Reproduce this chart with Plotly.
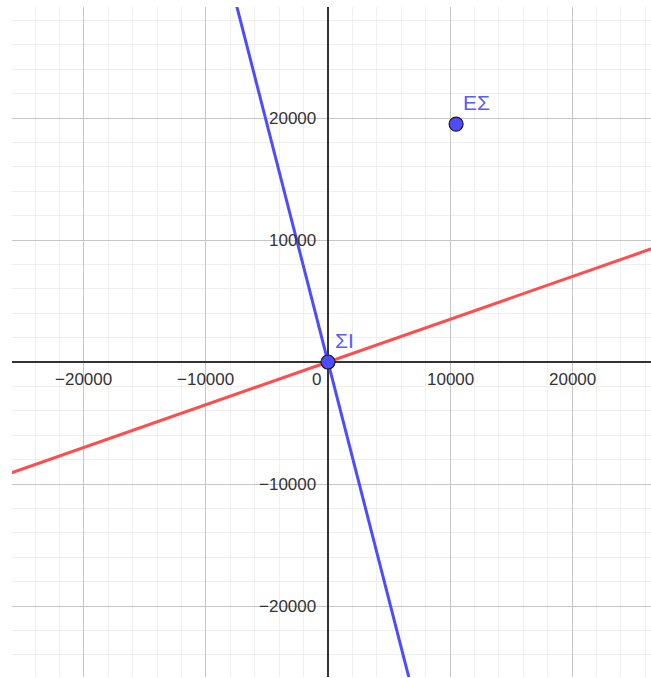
import plotly.graph_objects as go

# Data
x_ticks = [-20000, -10000, 10000, 20000]
y_ticks = [20000, 10000, -10000, -20000]
x_tick_labels = ["\u221220000", "\u221210000", "10000", "20000"]
y_tick_labels = ["20000", "10000", "\u221210000", "\u221220000"]

point_names = ["\u0395\u03a3", "\u03a3\u0399"]   # ΕΣ, ΣΙ
point_x = [10500, 0]
point_y = [19500, 0]

red_slope = 0.35
blue_slope = -3.9
line_x = [-40000, 40000]

x_range = [-25900, 26475]
y_range = [-25820, 29100]

BLUE = "#4d4dff"
RED = "#ff4d4d"
TICK_FONT = dict(family="Liberation Sans, Arial, sans-serif", size=17, color="#333333")

fig = go.Figure()

fig.add_trace(go.Scatter(x=line_x, y=[red_slope * v for v in line_x], mode="lines",
                         line=dict(color=RED, width=3), hoverinfo="skip", showlegend=False))
fig.add_trace(go.Scatter(x=line_x, y=[blue_slope * v for v in line_x], mode="lines",
                         line=dict(color=BLUE, width=3), hoverinfo="skip", showlegend=False))
fig.add_trace(go.Scatter(x=point_x, y=point_y, mode="markers",
                         marker=dict(size=14, color=BLUE, line=dict(color="#1a1a1a", width=1.2)),
                         showlegend=False))

# point labels
for name, px, py in zip(point_names, point_x, point_y):
    fig.add_annotation(x=px, y=py, xref="x", yref="y", text=name, showarrow=False,
                       xanchor="left", yanchor="middle", xshift=5, yshift=22,
                       font=dict(family="Liberation Sans, Arial, sans-serif", size=21, color="#5a5aff"))

# axis tick labels placed along the axes
for v, t in zip(x_ticks, x_tick_labels):
    fig.add_annotation(x=v, y=0, xref="x", yref="y", text=t, showarrow=False,
                       xanchor="center", yanchor="middle", yshift=-17, font=TICK_FONT)
fig.add_annotation(x=0, y=0, xref="x", yref="y", text="0", showarrow=False,
                   xanchor="right", yanchor="middle", xshift=-5, yshift=-17, font=TICK_FONT)
for v, t in zip(y_ticks, y_tick_labels):
    fig.add_annotation(x=0, y=v, xref="x", yref="y", text=t, showarrow=False,
                       xanchor="right", yanchor="middle", xshift=-10, font=TICK_FONT)

axis_common = dict(
    showticklabels=False, ticks="", showline=False,
    showgrid=True, gridcolor="#c6c6c6", gridwidth=1,
    zeroline=True, zerolinecolor="#333333", zerolinewidth=1.5,
    dtick=10000, tick0=0,
)
fig.update_xaxes(range=x_range, minor=dict(dtick=2000, tick0=0, showgrid=True, gridcolor="#efefef", gridwidth=1),
                 **axis_common)
fig.update_yaxes(range=y_range, minor=dict(dtick=2000, tick0=0, showgrid=True, gridcolor="#efefef", gridwidth=1),
                 **axis_common)

fig.update_layout(
    width=651, height=678,
    margin=dict(l=12, r=0, t=7, b=1),
    plot_bgcolor="white", paper_bgcolor="white",
    showlegend=False,
)

fig.write_html("out.html", config={"displayModeBar": False},
               post_script="document.body.style.margin='0';document.body.style.overflow='hidden';")
